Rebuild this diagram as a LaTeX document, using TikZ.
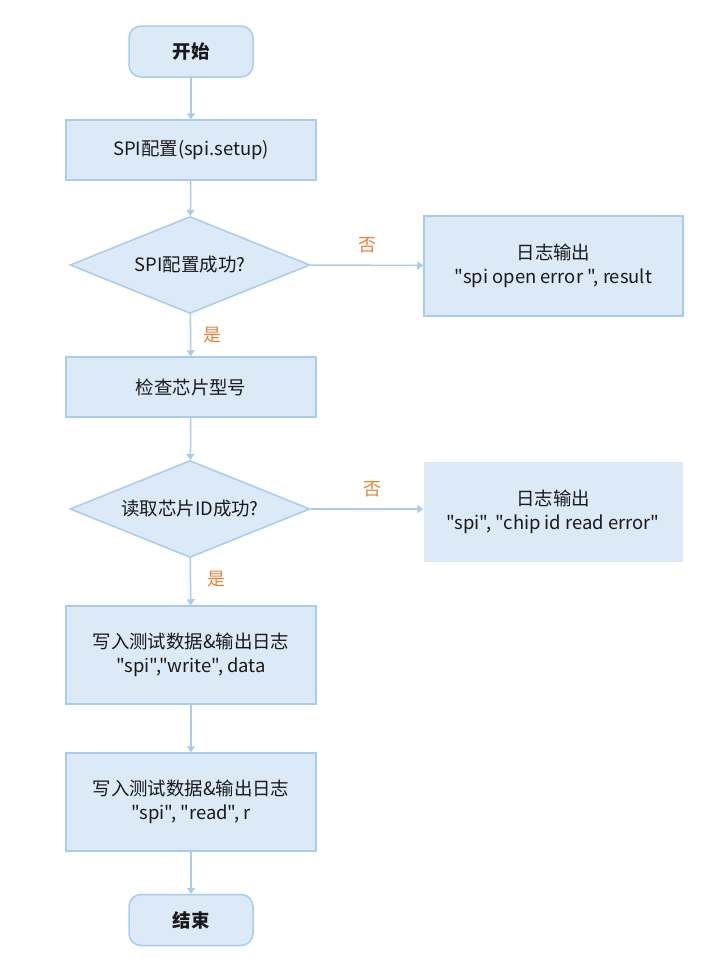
\documentclass[tikz,border=0pt]{standalone}
\usepackage{fontspec}
\setmainfont{Noto Sans CJK SC}[Ligatures=TeXOff]
\usetikzlibrary{shapes.geometric,arrows.meta}
\definecolor{fillb}{HTML}{DCE9F7}
\definecolor{lineb}{HTML}{A9CBEC}
\definecolor{orng}{HTML}{E8803A}
\begin{document}
\begin{tikzpicture}[x=1bp,y=-1bp,
  every node/.style={font=\fontsize{18.5}{24}\selectfont, text=black!90},
  term/.style={draw=lineb, line width=1.5bp, fill=fillb, rounded corners=12bp, minimum width=124bp, minimum height=51bp, inner sep=0pt, font=\fontsize{18.5}{24}\selectfont\bfseries},
  proc/.style={draw=lineb, line width=1.5bp, fill=fillb, minimum width=250bp, inner sep=0pt, align=center},
  logbox/.style={fill=fillb, minimum width=259bp, minimum height=100bp, inner sep=0pt, align=center},
  dec/.style={diamond, draw=lineb, line width=1.5bp, fill=fillb, aspect=2.47, minimum width=240bp, minimum height=97bp, inner sep=0pt},
  conn/.style={draw=lineb, line width=1.5bp, -{Triangle[length=6bp,width=8bp]}},
  lab/.style={text=orng, font=\fontsize{18}{22}\selectfont}]
\useasboundingbox (0,0) rectangle (724,972);
\node[term] (start) at (191,51.5) {开始};
\node[proc, minimum height=60bp] (setup) at (191,150) {SPI配置(spi.setup)};
\node[dec] (d1) at (190,265) {SPI配置成功?};
\node[logbox, draw=lineb, line width=1.5bp] (log1) at (553.5,266) {日志输出\\"spi open error ", result};
\node[proc, minimum height=60bp] (check) at (191,387) {检查芯片型号};
\node[dec] (d2) at (190,509) {读取芯片ID成功?};
\node[logbox] (log2) at (553,511.5) {日志输出\\"spi", "chip id read error"};
\node[proc, minimum height=98bp] (write) at (191,655) {写入测试数据\&输出日志\\"spi","write", data};
\node[proc, minimum height=98bp] (read) at (191,802) {写入测试数据\&输出日志\\"spi", "read", r};
\node[term] (end) at (191,920) {结束};
\draw[conn] (start) -- (setup);
\draw[conn] (setup) -- (d1);
\draw[conn] (d1) -- node[lab, pos=0.5, right=9bp] {是} (check);
\draw[conn] (d1.east) -- node[lab, above=8bp, pos=0.5] {否} (log1);
\draw[conn] (check) -- (d2);
\draw[conn] (d2) -- node[lab, pos=0.45, right=13bp] {是} (write);
\draw[conn] (d2.east) -- node[lab, above=8bp, pos=0.55] {否} (log2.west |- d2.east);
\draw[conn] (write) -- (read);
\draw[conn] (read) -- (end);
\end{tikzpicture}
\end{document}
